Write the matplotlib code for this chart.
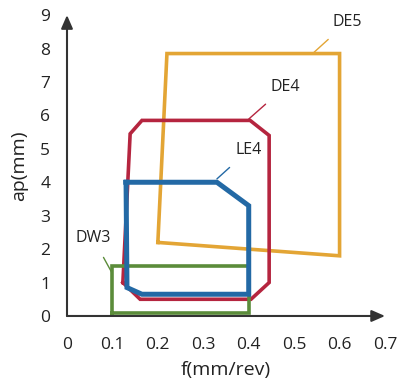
import matplotlib.pyplot as plt

plt.rcParams['font.family'] = ['Open Sans', 'DejaVu Sans']

# operating windows (f in mm/rev, ap in mm)
de5_f = [0.20, 0.22, 0.60, 0.60, 0.20]
de5_ap = [2.2, 7.85, 7.85, 1.8, 2.2]

de4_f = [0.123, 0.139, 0.165, 0.403, 0.445, 0.445, 0.405, 0.161, 0.123]
de4_ap = [1.0, 5.45, 5.85, 5.85, 5.4, 1.0, 0.5, 0.5, 1.0]

le4_f = [0.13, 0.33, 0.40, 0.40, 0.165, 0.132, 0.13]
le4_ap = [4.0, 4.0, 3.3, 0.65, 0.65, 0.85, 4.0]

dw3_f = [0.10, 0.40, 0.40, 0.10, 0.10]
dw3_ap = [0.1, 0.1, 1.5, 1.5, 0.1]

xticks = [0, 0.1, 0.2, 0.3, 0.4, 0.5, 0.6, 0.7]
yticks = list(range(10))

fig = plt.figure(figsize=(4, 3.87), dpi=100)
ax = fig.add_axes([0.1675, 0.1835, 0.795, 0.7775])

ax.plot(de5_f, de5_ap, color='#E3A535', lw=2.6, solid_joinstyle='miter')
ax.plot(de4_f, de4_ap, color='#B5253F', lw=2.6, solid_joinstyle='miter')
ax.plot(dw3_f, dw3_ap, color='#5B8C3A', lw=2.6, solid_joinstyle='miter')
ax.plot(le4_f, le4_ap, color='#2369A5', lw=3.6, solid_joinstyle='miter')

# labels with leader lines
ax.annotate('DE5', xy=(0.544, 7.89), xytext=(0.617, 8.79), ha='center', va='center',
            fontsize=11.5, color='#222222',
            arrowprops=dict(arrowstyle='-', color='#E3A535', lw=1, shrinkA=7, shrinkB=0))
ax.annotate('DE4', xy=(0.40, 5.89), xytext=(0.48, 6.85), ha='center', va='center',
            fontsize=11.5, color='#222222',
            arrowprops=dict(arrowstyle='-', color='#B5253F', lw=1, shrinkA=7, shrinkB=0))
ax.annotate('LE4', xy=(0.33, 4.1), xytext=(0.40, 4.96), ha='center', va='center',
            fontsize=11.5, color='#222222',
            arrowprops=dict(arrowstyle='-', color='#2369A5', lw=1, shrinkA=7, shrinkB=0))
ax.annotate('DW3', xy=(0.099, 1.29), xytext=(0.057, 2.33), ha='center', va='center',
            fontsize=11.5, color='#222222',
            arrowprops=dict(arrowstyle='-', color='#5B8C3A', lw=1, shrinkA=7, shrinkB=0))

ax.set_xlim(0, 0.7)
ax.set_ylim(0, 9)
ax.set_xticks(xticks)
ax.set_xticklabels([f'{t:g}' for t in xticks])
ax.set_yticks(yticks)
ax.tick_params(length=0, labelsize=12.5, colors='#222222')
ax.tick_params(axis='x', pad=15)
ax.tick_params(axis='y', pad=12)
for s in ax.spines.values():
    s.set_visible(False)

# axes with arrow heads
ax.annotate('', xy=(0.7, 0), xytext=(0, 0), annotation_clip=False,
            arrowprops=dict(arrowstyle='-|>,head_length=0.8,head_width=0.35', color='#333333',
                            lw=1.5, shrinkA=0, shrinkB=0))
ax.annotate('', xy=(0, 9), xytext=(0, 0), annotation_clip=False,
            arrowprops=dict(arrowstyle='-|>,head_length=0.8,head_width=0.35', color='#333333',
                            lw=1.5, shrinkA=0, shrinkB=0))

ax.set_xlabel('f(mm/rev)', fontsize=14, color='#222222', labelpad=6)
ax.set_ylabel('ap(mm)', fontsize=14, color='#222222', labelpad=9)

fig.savefig('out.png', dpi=100)
